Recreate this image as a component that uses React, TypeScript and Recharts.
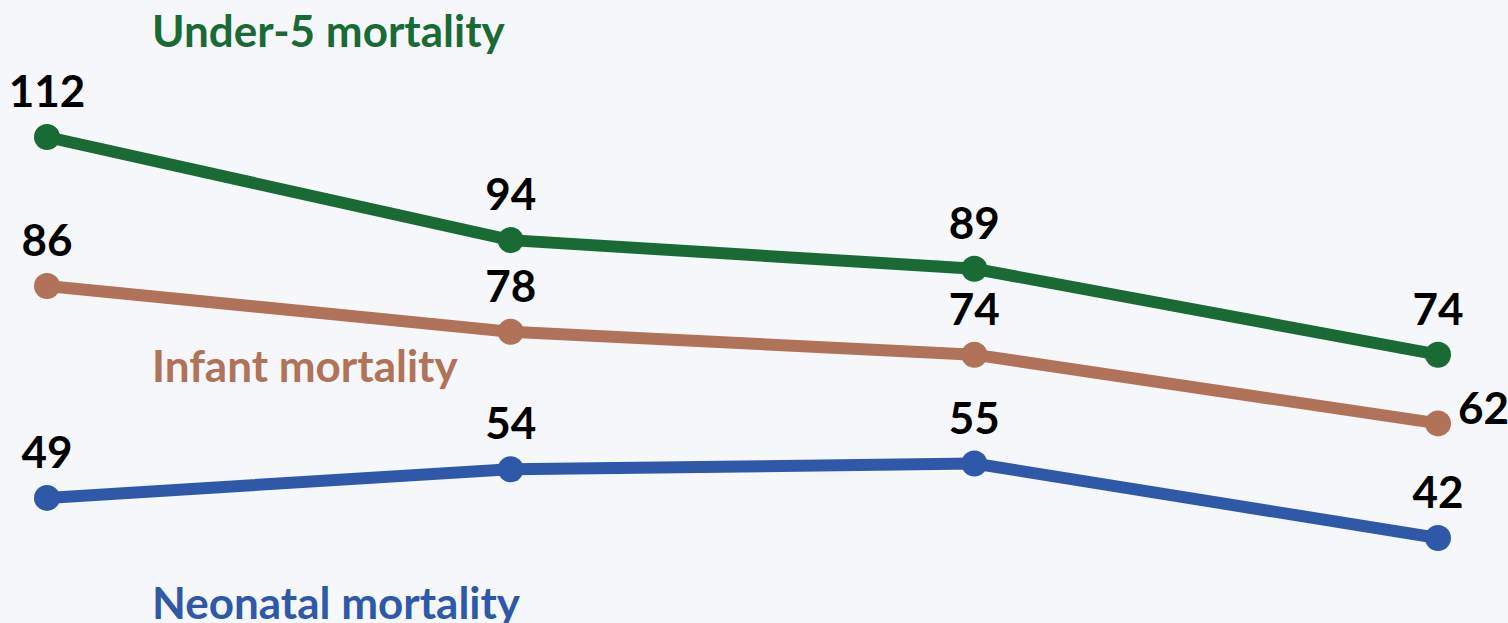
import React from 'react';
import { LineChart, Line, XAxis, YAxis, LabelList } from 'recharts';

const rounds = ['Round 1', 'Round 2', 'Round 3', 'Round 4'];
const under5 = [112, 94, 89, 74];
const infant = [86, 78, 74, 62];
const neonatal = [49, 54, 55, 42];

const data = rounds.map((round, i) => ({
    round,
    under5: under5[i],
    infant: infant[i],
    neonatal: neonatal[i],
}));

const FONT = 'Lato, "Open Sans", sans-serif';
const GREEN = '#1a6a35';
const BROWN = '#b07258';
const BLUE = '#2f58a8';

const W = 1508;
const H = 623;

// value label: above the point, except last infant point goes to the right
const makeLabel = (rightOnLast: boolean) => (props: any) => {
    const { x, y, value, index } = props;
    const right = rightOnLast && index === rounds.length - 1;
    return (
        <text
            x={right ? x + 20 : x}
            y={right ? y + 1 : y - 30}
            textAnchor={right ? 'start' : 'middle'}
            fontFamily={FONT}
            fontWeight={700}
            fontSize={44}
            fill="#000"
        >
            {value}
        </text>
    );
};

const names = [
    { text: 'Under-5 mortality', y: 47, color: GREEN },
    { text: 'Infant mortality', y: 382, color: BROWN },
    { text: 'Neonatal mortality', y: 619, color: BLUE },
];

const App = () => (
    <div style={{ position: 'absolute', left: 0, top: 0, width: W, height: H, background: '#f5f7fa' }}>
        <LineChart width={W} height={H} data={data} margin={{ top: 137, right: 70, bottom: 85, left: 47 }}>
            <XAxis dataKey="round" hide padding={{ left: 0, right: 0 }} />
            <YAxis hide width={0} domain={[42, 112]} />
            <Line dataKey="under5" stroke={GREEN} strokeWidth={12} dot={{ r: 13, fill: GREEN, stroke: 'none' }} isAnimationActive={false}>
                <LabelList dataKey="under5" content={makeLabel(false)} />
            </Line>
            <Line dataKey="infant" stroke={BROWN} strokeWidth={12} dot={{ r: 13, fill: BROWN, stroke: 'none' }} isAnimationActive={false}>
                <LabelList dataKey="infant" content={makeLabel(true)} />
            </Line>
            <Line dataKey="neonatal" stroke={BLUE} strokeWidth={12} dot={{ r: 13, fill: BLUE, stroke: 'none' }} isAnimationActive={false}>
                <LabelList dataKey="neonatal" content={makeLabel(false)} />
            </Line>
        </LineChart>
        <svg width={W} height={H} style={{ position: 'absolute', left: 0, top: 0, pointerEvents: 'none' }}>
            {names.map((n) => (
                <text key={n.text} x={152} y={n.y} fontFamily={FONT} fontWeight={700} fontSize={44} fill={n.color}>
                    {n.text}
                </text>
            ))}
        </svg>
    </div>
);

export default App;
